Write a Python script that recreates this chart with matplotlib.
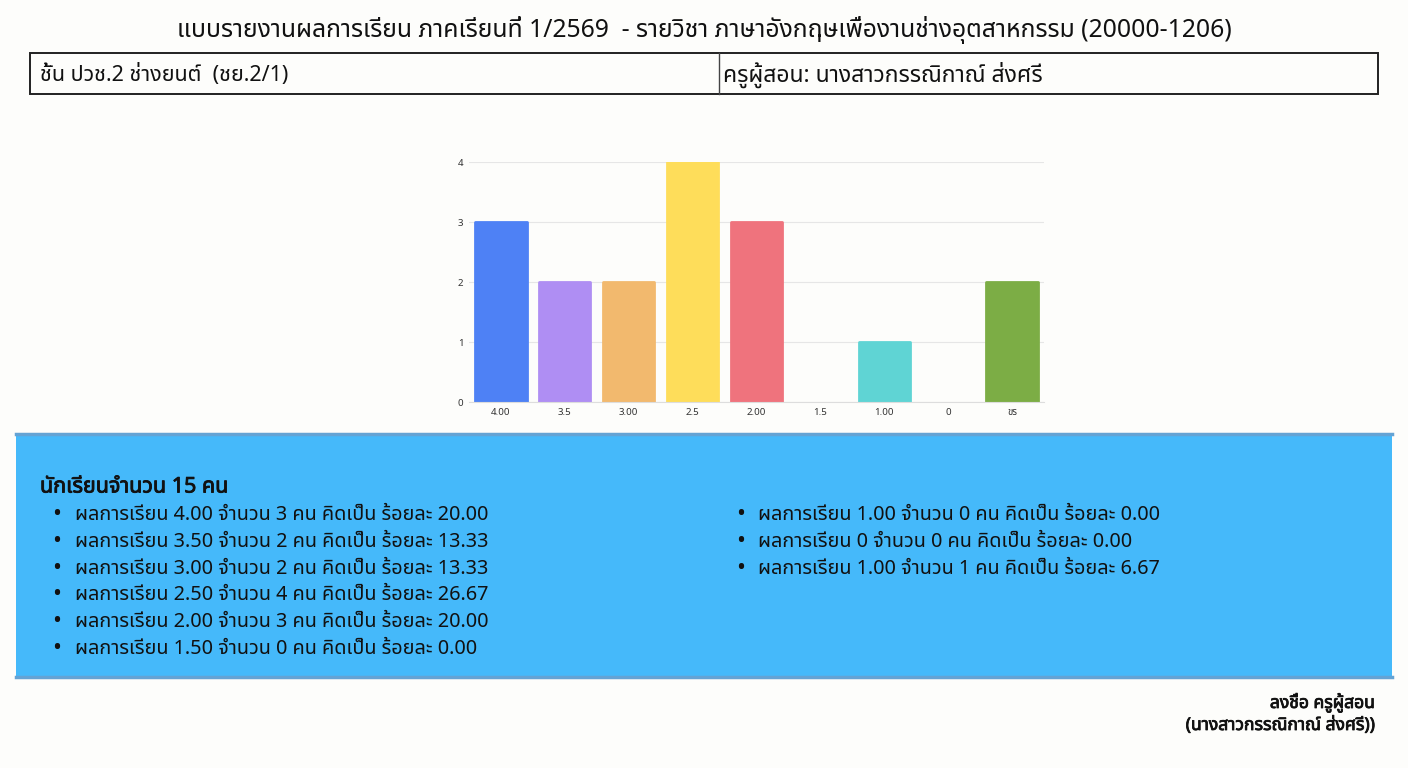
import matplotlib
matplotlib.use("Agg")
import matplotlib.pyplot as plt
import matplotlib.patheffects as pe
from matplotlib import font_manager
from matplotlib.patches import Rectangle

# pick a font that has Thai glyphs if any is present
thai_candidates = ["Noto Sans Thai", "Noto Sans Thai UI", "Noto Serif Thai", "Loma", "Garuda",
                   "Waree", "Tlwg Typo", "Laksaman", "Sarabun", "Leelawadee UI", "Tahoma"]
installed = {f.name for f in font_manager.fontManager.ttflist}
thai_fonts = [f for f in thai_candidates if f in installed]
FAMILY = thai_fonts + ["DejaVu Sans"]
plt.rcParams["font.family"] = FAMILY

title = "แบบรายงานผลการเรียน ภาคเรียนที่ 1/2569  - รายวิชา ภาษาอังกฤษเพื่องานช่างอุตสาหกรรม (20000-1206)"
class_label = "ชั้น ปวช.2 ช่างยนต์  (ชย.2/1)"
teacher_label = "ครูผู้สอน: นางสาวกรรณิกาณ์ ส่งศรี"

grade_labels = ["4.00", "3.5", "3.00", "2.5", "2.00", "1.5", "1.00", "0", "ขร"]
grade_counts = [3, 2, 2, 4, 3, 0, 1, 0, 2]
bar_colors = ["#4E81F5", "#AF8EF3", "#F2B96E", "#FEDD5A", "#EF737D",
              "#C9C9C9", "#5FD4D4", "#C9C9C9", "#7CAD45"]

total_students = 15
list_grades = ["4.00", "3.50", "3.00", "2.50", "2.00", "1.50", "1.00", "0", "1.00"]
list_counts = [3, 2, 2, 4, 3, 0, 0, 0, 1]
list_percents = ["20.00", "13.33", "13.33", "26.67", "20.00", "0.00", "0.00", "0.00", "6.67"]

sign_line1 = "ลงชื่อ ครูผู้สอน"
sign_line2 = "(นางสาวกรรณิกาณ์ ส่งศรี))"

W, H = 1408, 768
fig = plt.figure(figsize=(W / 100, H / 100), dpi=100, facecolor="#FDFDFB")

# fake bold, the Thai font may only come in regular weight
BOLD = [pe.withStroke(linewidth=0.6, foreground="#111111")]


def fx(x):
    return x / W


def fy(y):
    return 1 - y / H


# header
fig.text(fx(704), fy(30), title, ha="center", va="center", fontsize=17.8, color="#111111")
fig.patches.append(Rectangle((fx(30), fy(94)), fx(1378) - fx(30), fy(53) - fy(94),
                             transform=fig.transFigure, fill=False, lw=1.4, ec="#222222"))
fig.add_artist(plt.Line2D([fx(719), fx(719)], [fy(53), fy(94)], transform=fig.transFigure,
                          lw=1.0, color="#444444"))
fig.text(fx(40), fy(75), class_label, ha="left", va="center", fontsize=15.5, color="#111111")
fig.text(fx(723), fy(75), teacher_label, ha="left", va="center", fontsize=16.5, color="#111111")

# bar chart
ax = fig.add_axes([fx(469), fy(402), fx(1044) - fx(469), fy(162) - fy(402)])
ax.set_facecolor("none")
x = range(len(grade_labels))
bars = ax.bar(x, grade_counts, width=0.80, color=bar_colors, zorder=3)
# same-colour edge with round joins softens the corners a little
for b, c, n in zip(bars, bar_colors, grade_counts):
    b.set_edgecolor(c)
    b.set_linewidth(2 if n > 0 else 0)
    b.set_joinstyle("round")
ax.set_xlim(-0.5, len(grade_labels) - 0.5)
ax.set_ylim(0, 4)
ax.set_yticks([0, 1, 2, 3, 4])
ax.set_xticks(list(x))
ax.set_xticklabels(grade_labels)
ax.tick_params(axis="both", labelsize=7, colors="#333333", length=0, pad=4)
ax.grid(axis="y", color="#E6E6E6", lw=0.8, zorder=0)
for side in ["top", "right", "left"]:
    ax.spines[side].set_visible(False)
ax.spines["bottom"].set_color("#DDDDDD")
ax.spines["bottom"].set_zorder(4)

# summary panel
fig.patches.append(Rectangle((fx(16), fy(679)), fx(1392) - fx(16), fy(433) - fy(679),
                             transform=fig.transFigure, fc="#45B9FA", ec="none", zorder=0))
fig.add_artist(plt.Line2D([fx(16), fx(1392)], [fy(434), fy(434)], transform=fig.transFigure,
                          lw=2.5, color="#64A3D4"))
fig.add_artist(plt.Line2D([fx(16), fx(1392)], [fy(677), fy(677)], transform=fig.transFigure,
                          lw=2.5, color="#64A3D4"))

fig.text(fx(40), fy(487), f"นักเรียนจำนวน {total_students} คน", ha="left", va="center",
         fontsize=15.5, fontweight="bold", color="#111111", path_effects=BOLD)

line_gap = 26.8
for i, (g, c, p) in enumerate(zip(list_grades, list_counts, list_percents)):
    if i < 6:
        bx, tx, y = 57, 75, 515 + i * line_gap
    else:
        bx, tx, y = 741, 758, 515 + (i - 6) * line_gap
    fig.text(fx(bx), fy(y), "•", ha="center", va="center", fontsize=17, color="#111111")
    fig.text(fx(tx), fy(y), f"ผลการเรียน {g} จำนวน {c} คน คิดเป็น ร้อยละ {p}",
             ha="left", va="center", fontsize=14.3, color="#111111")

# signature
fig.text(fx(1375), fy(703), sign_line1, ha="right", va="center", fontsize=12.6,
         fontweight="bold", color="#111111", path_effects=BOLD)
fig.text(fx(1375), fy(725), sign_line2, ha="right", va="center", fontsize=12.6,
         fontweight="bold", color="#111111", path_effects=BOLD)

fig.savefig("out.png", dpi=100, facecolor=fig.get_facecolor())
